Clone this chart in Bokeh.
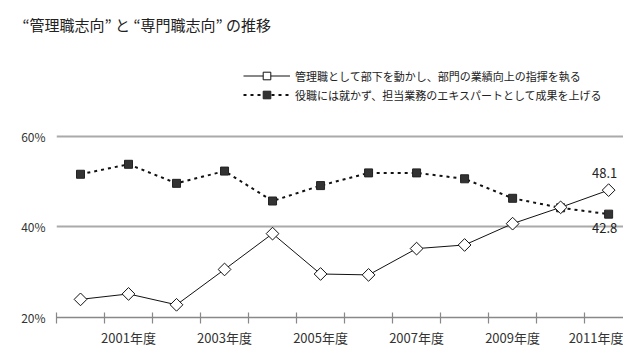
import math
from bokeh.plotting import figure
from bokeh.models import FixedTicker, Legend, LegendItem, Range1d
from bokeh.embed import file_html
from bokeh.resources import INLINE
from bokeh.core.properties import value

# ---- data ----
years = [2000, 2001, 2002, 2003, 2004, 2005, 2006, 2007, 2008, 2009, 2010, 2011]
manager = [24.0, 25.2, 22.8, 30.6, 38.5, 29.6, 29.4, 35.2, 36.0, 40.7, 44.3, 48.1]
specialist = [51.6, 53.8, 49.6, 52.3, 45.7, 49.1, 51.9, 51.9, 50.6, 46.3, 44.2, 42.8]
y_ticks = [20, 40, 60]
y_tick_labels = ["20%", "40%", "60%"]
label_years = [2001, 2003, 2005, 2007, 2009, 2011]
x_tick_labels = ["2001年度", "2003年度", "2005年度", "2007年度", "2009年度", "2011年度"]
name_manager = "管理職として部下を動かし、部門の業績向上の指揮を執る"
name_specialist = "役職には就かず、担当業務のエキスパートとして成果を上げる"
title_text = "“管理職志向” と “専門職志向” の推移"

FONT = "Noto Sans CJK JP"

p = figure(width=623, height=353, output_backend="svg", toolbar_location=None,
           x_range=Range1d(years[0] - 0.5, years[-1] + 0.31),
           y_range=Range1d(20, 81.11),
           min_border_left=56, min_border_right=0, min_border_top=40,
           min_border_bottom=36)
p.outline_line_color = None
p.xgrid.grid_line_color = None
p.ygrid.ticker = FixedTicker(ticks=y_ticks)
p.ygrid.grid_line_color = "#aaaaaa"
p.ygrid.grid_line_width = 2

p.title.text = title_text
p.title.align = "left"
p.title.offset = -34
p.title.standoff = 12
p.title.text_font = FONT
p.title.text_font_size = "15px"
p.title.text_font_style = "normal"
p.title.text_color = "#222222"

# y axis
p.yaxis.ticker = FixedTicker(ticks=y_ticks)
p.yaxis.major_label_overrides = {t: l for t, l in zip(y_ticks, y_tick_labels)}
p.yaxis.axis_line_color = None
p.yaxis.major_tick_line_color = None
p.yaxis.major_tick_out = 0
p.yaxis.major_tick_in = 0
p.yaxis.minor_tick_line_color = None
p.yaxis.major_label_standoff = 11
p.yaxis.major_label_text_font = FONT
p.yaxis.major_label_text_font_size = "12px"
p.yaxis.major_label_text_color = "#333333"

# x axis
bounds = [y - 0.5 for y in years]
p.xaxis.ticker = FixedTicker(ticks=label_years, minor_ticks=bounds)
p.xaxis.major_label_overrides = {t: l for t, l in zip(label_years, x_tick_labels)}
p.xaxis.axis_line_color = "#888888"
p.xaxis.axis_line_width = 1.5
p.xaxis.major_tick_line_color = None
p.xaxis.major_tick_out = 6
p.xaxis.major_tick_in = 0
p.xaxis.minor_tick_line_color = "#888888"
p.xaxis.minor_tick_line_width = 1.2
p.xaxis.minor_tick_in = 5
p.xaxis.minor_tick_out = 6
p.xaxis.major_label_standoff = 4
p.xaxis.major_label_text_font = FONT
p.xaxis.major_label_text_font_size = "13px"
p.xaxis.major_label_text_color = "#333333"

# series
l2 = p.line(years, specialist, line_color="#111111", line_width=2, line_dash="3 4")
s2 = p.scatter(years, specialist, marker="square", size=8, fill_color="#333333",
               line_color="#222222")
l1 = p.line(years, manager, line_color="#111111", line_width=1)
s1 = p.scatter(years, manager, marker="square", angle=math.pi / 4, size=9,
               fill_color="white", line_color="#111111", line_width=1)

# end labels
p.text(x=[years[-1]], y=[manager[-1]], text=[f"{manager[-1]:.1f}"],
       x_offset=-4, y_offset=-17, text_align="center", text_baseline="middle",
       text_font=value(FONT), text_font_size="13px", text_color="#222222")
p.text(x=[years[-1]], y=[specialist[-1]], text=[f"{specialist[-1]:.1f}"],
       x_offset=-4, y_offset=14, text_align="center", text_baseline="middle",
       text_font=value(FONT), text_font_size="13px", text_color="#222222")

legend = Legend(items=[LegendItem(label=name_manager, renderers=[l1, s1]),
                       LegendItem(label=name_specialist, renderers=[l2, s2])],
                location=(187, 213))
legend.padding = 0
legend.margin = 0
legend.spacing = 0
legend.glyph_width = 47
legend.glyph_height = 19
legend.label_height = 19
legend.label_standoff = 5
legend.border_line_color = None
legend.background_fill_alpha = 0
legend.label_text_font = FONT
legend.label_text_font_size = "11px"
legend.label_text_color = "#222222"
p.add_layout(legend)

open("out.html", "w").write(file_html(p, INLINE))
